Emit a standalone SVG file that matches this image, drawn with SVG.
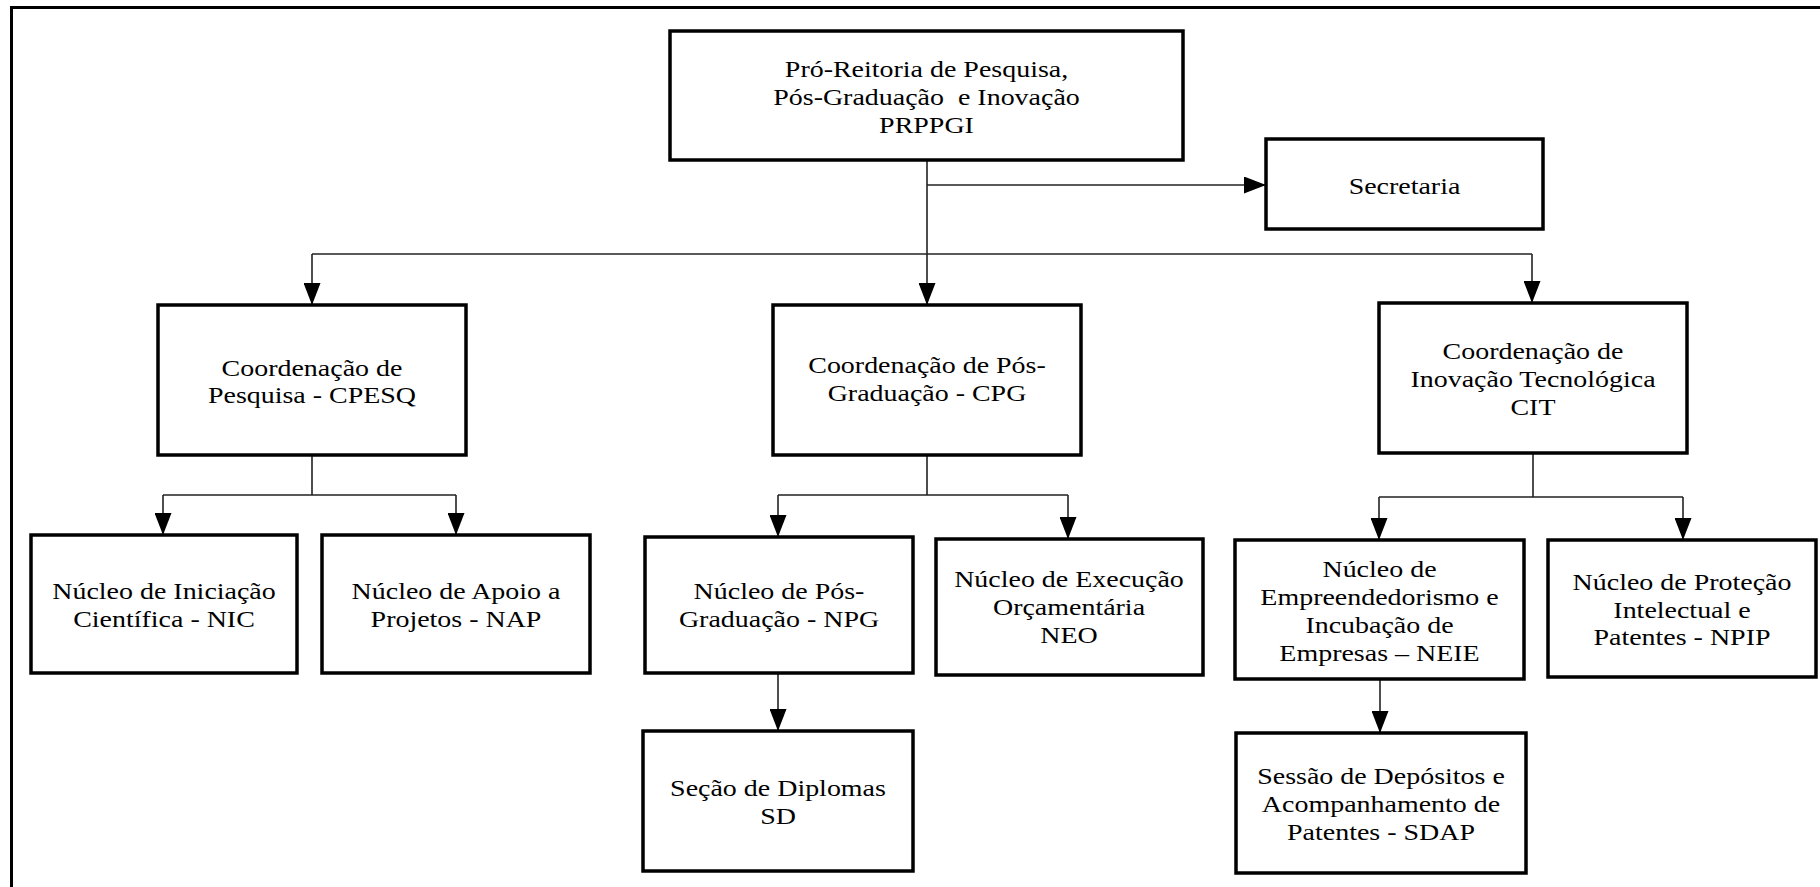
<svg xmlns="http://www.w3.org/2000/svg" width="1820" height="887" viewBox="0 0 1820 887">
<style>
.box{fill:#fff;stroke:#000;stroke-width:3.5}
.lbl{font-size:24px;text-anchor:middle;fill:#000}
.con{fill:none;stroke:#222;stroke-width:1.6}
.frame{fill:none;stroke:#000;stroke-width:3}
</style>
<defs>
<marker id="ah" markerUnits="userSpaceOnUse" markerWidth="22" markerHeight="17" refX="22" refY="8.5" orient="auto" viewBox="0 0 22 17">
<path d="M0,0 L22,8.5 L0,17 Z" fill="#000"/>
</marker>
</defs>
<rect width="1820" height="887" fill="#fff"/>
<path class="frame" d="M11.5,887 V7.5 H1820"/>
<g id="connectors">
<path class="con" d="M927,160 V305" marker-end="url(#ah)"/>
<path class="con" d="M927,185 H1266" marker-end="url(#ah)"/>
<path class="con" d="M312,254 H1532"/>
<path class="con" d="M312,254 V305" marker-end="url(#ah)"/>
<path class="con" d="M1532,254 V303" marker-end="url(#ah)"/>
<path class="con" d="M312,455 V495 M163,495 H456"/>
<path class="con" d="M163,495 V535" marker-end="url(#ah)"/>
<path class="con" d="M456,495 V535" marker-end="url(#ah)"/>
<path class="con" d="M927,455 V495 M778,495 H1068"/>
<path class="con" d="M778,495 V537" marker-end="url(#ah)"/>
<path class="con" d="M1068,495 V539" marker-end="url(#ah)"/>
<path class="con" d="M1533,453 V497 M1379,497 H1683"/>
<path class="con" d="M1379,497 V540" marker-end="url(#ah)"/>
<path class="con" d="M1683,497 V540" marker-end="url(#ah)"/>
<path class="con" d="M778,673 V731" marker-end="url(#ah)"/>
<path class="con" d="M1380,679 V733" marker-end="url(#ah)"/>
</g>
<g font-family="Liberation Serif, Times New Roman, serif">
<g id="prppgi">
<rect class="box" x="670" y="31" width="513" height="129"/>
<text class="lbl" font-family="Liberation Serif, serif" transform="translate(926.5 0) scale(1.165 1)"><tspan x="0" y="77">Pró-Reitoria de Pesquisa,</tspan><tspan x="0" y="105">Pós-Graduação&#160; e Inovação</tspan><tspan x="0" y="133">PRPPGI</tspan></text>
</g>
<g id="secretaria">
<rect class="box" x="1266" y="139" width="277" height="90"/>
<text class="lbl" font-family="Liberation Serif, serif" transform="translate(1404.5 0) scale(1.165 1)"><tspan x="0" y="194">Secretaria</tspan></text>
</g>
<g id="cpesq">
<rect class="box" x="158" y="305" width="308" height="150"/>
<text class="lbl" font-family="Liberation Serif, serif" transform="translate(312 0) scale(1.165 1)"><tspan x="0" y="376">Coordenação de</tspan><tspan x="0" y="403">Pesquisa - CPESQ</tspan></text>
</g>
<g id="cpg">
<rect class="box" x="773" y="305" width="308" height="150"/>
<text class="lbl" font-family="Liberation Serif, serif" transform="translate(927 0) scale(1.165 1)"><tspan x="0" y="373">Coordenação de Pós-</tspan><tspan x="0" y="401">Graduação - CPG</tspan></text>
</g>
<g id="cit">
<rect class="box" x="1379" y="303" width="308" height="150"/>
<text class="lbl" font-family="Liberation Serif, serif" transform="translate(1533 0) scale(1.165 1)"><tspan x="0" y="359">Coordenação de</tspan><tspan x="0" y="387">Inovação Tecnológica</tspan><tspan x="0" y="415">CIT</tspan></text>
</g>
<g id="nic">
<rect class="box" x="31" y="535" width="266" height="138"/>
<text class="lbl" font-family="Liberation Serif, serif" transform="translate(164 0) scale(1.165 1)"><tspan x="0" y="599">Núcleo de Iniciação</tspan><tspan x="0" y="627">Científica - NIC</tspan></text>
</g>
<g id="nap">
<rect class="box" x="322" y="535" width="268" height="138"/>
<text class="lbl" font-family="Liberation Serif, serif" transform="translate(456 0) scale(1.165 1)"><tspan x="0" y="599">Núcleo de Apoio a</tspan><tspan x="0" y="627">Projetos - NAP</tspan></text>
</g>
<g id="npg">
<rect class="box" x="645" y="537" width="268" height="136"/>
<text class="lbl" font-family="Liberation Serif, serif" transform="translate(779 0) scale(1.165 1)"><tspan x="0" y="599">Núcleo de Pós-</tspan><tspan x="0" y="627">Graduação - NPG</tspan></text>
</g>
<g id="neo">
<rect class="box" x="936" y="539" width="267" height="136"/>
<text class="lbl" font-family="Liberation Serif, serif" transform="translate(1069 0) scale(1.165 1)"><tspan x="0" y="587">Núcleo de Execução</tspan><tspan x="0" y="615">Orçamentária</tspan><tspan x="0" y="643">NEO</tspan></text>
</g>
<g id="neie">
<rect class="box" x="1235" y="540" width="289" height="139"/>
<text class="lbl" font-family="Liberation Serif, serif" transform="translate(1379.5 0) scale(1.165 1)"><tspan x="0" y="577">Núcleo de</tspan><tspan x="0" y="605">Empreendedorismo e</tspan><tspan x="0" y="633">Incubação de</tspan><tspan x="0" y="661">Empresas – NEIE</tspan></text>
</g>
<g id="npip">
<rect class="box" x="1548" y="540" width="268" height="137"/>
<text class="lbl" font-family="Liberation Serif, serif" transform="translate(1682 0) scale(1.165 1)"><tspan x="0" y="590">Núcleo de Proteção</tspan><tspan x="0" y="618">Intelectual e</tspan><tspan x="0" y="645">Patentes - NPIP</tspan></text>
</g>
<g id="sd">
<rect class="box" x="643" y="731" width="270" height="140"/>
<text class="lbl" font-family="Liberation Serif, serif" transform="translate(778 0) scale(1.165 1)"><tspan x="0" y="796">Seção de Diplomas</tspan><tspan x="0" y="824">SD</tspan></text>
</g>
<g id="sdap">
<rect class="box" x="1236" y="733" width="290" height="140"/>
<text class="lbl" font-family="Liberation Serif, serif" transform="translate(1381 0) scale(1.165 1)"><tspan x="0" y="784">Sessão de Depósitos e</tspan><tspan x="0" y="812">Acompanhamento de</tspan><tspan x="0" y="840">Patentes - SDAP</tspan></text>
</g>
</g>
</svg>
